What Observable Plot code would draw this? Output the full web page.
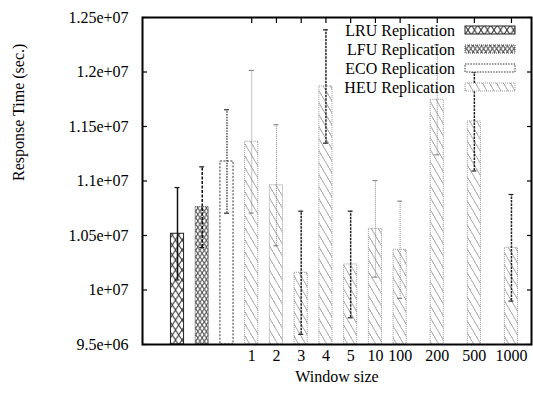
<!DOCTYPE html>
<html>
<head>
<meta charset="utf-8">
<script src="https://cdn.jsdelivr.net/npm/d3@7"></script>
<script src="https://cdn.jsdelivr.net/npm/@observablehq/plot@0.6"></script>
<style>
  html, body { margin: 0; padding: 0; background: white; }
  #chart svg, #chart svg text { font-family: "Liberation Serif", "Times New Roman", Times, "DejaVu Serif", serif !important; }
</style>
</head>
<body>
<div id="chart"></div>
<script>
// ---- data ----
const seriesNames = ["LRU Replication", "LFU Replication", "ECO Replication", "HEU Replication"];
const baselineKeys = ["LRU", "LFU", "ECO"];
const baselineMeans = [1.0516e7, 1.0760e7, 1.1179e7];
const baselineErrs = [0.424e6, 0.370e6, 0.475e6];
const windowSizes = ["1", "2", "3", "4", "5", "10", "100", "200", "500", "1000"];
const heuMeans = [1.1360e7, 1.0961e7, 1.0158e7, 1.1867e7, 1.0234e7, 1.0561e7, 1.0369e7, 1.1745e7, 1.1546e7, 1.0387e7];
const heuErrs = [0.654e6, 0.555e6, 0.565e6, 0.520e6, 0.489e6, 0.443e6, 0.446e6, 0.505e6, 0.454e6, 0.489e6];
const yTicks = [9.5e6, 1.0e7, 1.05e7, 1.1e7, 1.15e7, 1.2e7, 1.25e7];

// ---- layout helpers (slot positions on the x axis) ----
const slotOf = (i) => (i <= 9 ? i : 9 + (i - 9) * 1.5);
const rows = [];
baselineKeys.forEach((k, i) => rows.push({series: k, label: "", pos: slotOf(i), mean: baselineMeans[i], err: baselineErrs[i]}));
windowSizes.forEach((w, i) => rows.push({series: "HEU", label: w, pos: slotOf(i + 3), mean: heuMeans[i], err: heuErrs[i]}));
const heuPositions = rows.filter(d => d.series === "HEU").map(d => d.pos);
const labelAt = new Map(rows.map(d => [d.pos, d.label]));

const darkErr = new Set(["3", "4", "5", "500", "1000"]);
const half = 0.265, cap = 0.1, base = 9.5e6;
const FONT = '"Liberation Serif", "Times New Roman", Times, "DejaVu Serif", serif';

const barStyle = {
  LRU: {fill: "url(#pLRU)", stroke: "#222", strokeWidth: 1},
  LFU: {fill: "url(#pLFU)", stroke: "#444", strokeWidth: 1, strokeDasharray: "1,1"},
  ECO: {fill: "white", stroke: "#333", strokeWidth: 1, strokeDasharray: "2,1.5"},
  HEU: {fill: "url(#pHEU)", stroke: "#999", strokeWidth: 1, strokeDasharray: "1,1"}
};
function errStyle(d) {
  if (d.series === "LRU") return {stroke: "#111", strokeWidth: 1.5};
  if (d.series === "LFU") return {stroke: "#111", strokeWidth: 1.5, strokeDasharray: "3,1.5"};
  if (d.series === "ECO") return {stroke: "#333", strokeWidth: 1.3, strokeDasharray: "1.5,1.2"};
  if (darkErr.has(d.label)) return {stroke: "#222", strokeWidth: 1.5, strokeDasharray: "2.5,1"};
  return {stroke: "#888", strokeWidth: 1, strokeDasharray: "1,1"};
}

function fmt(d) {
  const [m, e] = d.toExponential().split("e");
  return m + "e" + e[0] + e.slice(1).padStart(2, "0");
}

const marks = [];
for (const s of ["LRU", "LFU", "ECO", "HEU"]) {
  const data = rows.filter(d => d.series === s);
  marks.push(Plot.rectY(data, {x1: d => d.pos - half, x2: d => d.pos + half, y1: base, y2: "mean", ...barStyle[s]}));
}
for (const d of rows) {
  const st = errStyle(d);
  marks.push(Plot.ruleX([d], {x: "pos", y1: r => r.mean - r.err, y2: r => r.mean + r.err, ...st}));
  marks.push(Plot.ruleY([d, d], {x1: r => r.pos - cap, x2: r => r.pos + cap, y: (r, i) => i ? r.mean + r.err : r.mean - r.err, stroke: st.stroke, strokeWidth: 1.2}));
}
marks.push(
  Plot.axisY({ticks: yTicks, tickSize: 5, dx: 5, tickPadding: 14, tickFormat: fmt, label: null, strokeWidth: 1.2}),
  Plot.axisY({anchor: "right", ticks: yTicks, tickSize: 5, dx: -5, tickFormat: () => "", label: null, strokeWidth: 1.2}),
  Plot.axisX({anchor: "top", ticks: heuPositions, tickSize: 5, dy: 5, tickFormat: () => "", label: null, strokeWidth: 1.2}),
  Plot.axisX({anchor: "bottom", ticks: heuPositions, tickSize: 0, tickPadding: 5, tickFormat: p => labelAt.get(p), label: null}),
  Plot.frame({stroke: "black", strokeWidth: 2}),
  Plot.text(["Window size"], {frameAnchor: "bottom", dy: 37, text: d => d, fontSize: 16}),
  Plot.text(["Response Time (sec.)"], {frameAnchor: "left", dx: -124, rotate: -90, text: d => d, fontSize: 16})
);

const chart = Plot.plot({
  width: 533, height: 396,
  marginLeft: 142, marginRight: 2, marginTop: 17, marginBottom: 52,
  x: {type: "linear", domain: [-1.415, 14.31]},
  y: {domain: [9.5e6, 1.25e7]},
  style: {fontFamily: FONT, fontSize: "16px", color: "black", background: "white"},
  marks
});

const svg = d3.select(chart);
svg.insert("defs", ":first-child").html(`
  <pattern id="pLRU" patternUnits="userSpaceOnUse" width="6.5" height="10">
    <rect width="6.5" height="10" fill="white"/>
    <path d="M0,0L6.5,10M6.5,0L0,10" stroke="#333" stroke-width="1" fill="none"/>
  </pattern>
  <pattern id="pLFU" patternUnits="userSpaceOnUse" width="4.3" height="6.5">
    <rect width="4.3" height="6.5" fill="white"/>
    <path d="M0,0L4.3,6.5M4.3,0L0,6.5" stroke="#444" stroke-width="0.9" fill="none"/>
    <circle cx="2.15" cy="3.25" r="0.7" fill="#666"/>
  </pattern>
  <pattern id="pHEU" patternUnits="userSpaceOnUse" width="7" height="12">
    <rect width="7" height="12" fill="white"/>
    <path d="M0,0L7,12M-1,-1.71L1,1.71M6,10.29L8,13.71" stroke="#aaa" stroke-width="1" fill="none"/>
  </pattern>
`);

// legend (inside plot area, top-right)
const leg = svg.append("g").style("font-family", FONT).attr("font-size", 16);
const keyStyles = [
  {fill: "url(#pLRU)", stroke: "#222", dash: null},
  {fill: "url(#pLFU)", stroke: "#444", dash: "1,1"},
  {fill: "white", stroke: "#333", dash: "1.5,1.2"},
  {fill: "url(#pHEU)", stroke: "#999", dash: "1,1"}
];
seriesNames.forEach((name, i) => {
  const cy = 30 + i * 19;
  leg.append("text").attr("x", 455).attr("y", cy).attr("dy", "0.35em").attr("text-anchor", "end").attr("fill", "black").text(name);
  const k = keyStyles[i];
  leg.append("rect").attr("x", 465).attr("y", cy - 4).attr("width", 50).attr("height", 8)
    .attr("fill", k.fill).attr("stroke", k.stroke).attr("stroke-width", 1).attr("stroke-dasharray", k.dash);
});

document.getElementById("chart").appendChild(chart);
</script>
</body>
</html>
